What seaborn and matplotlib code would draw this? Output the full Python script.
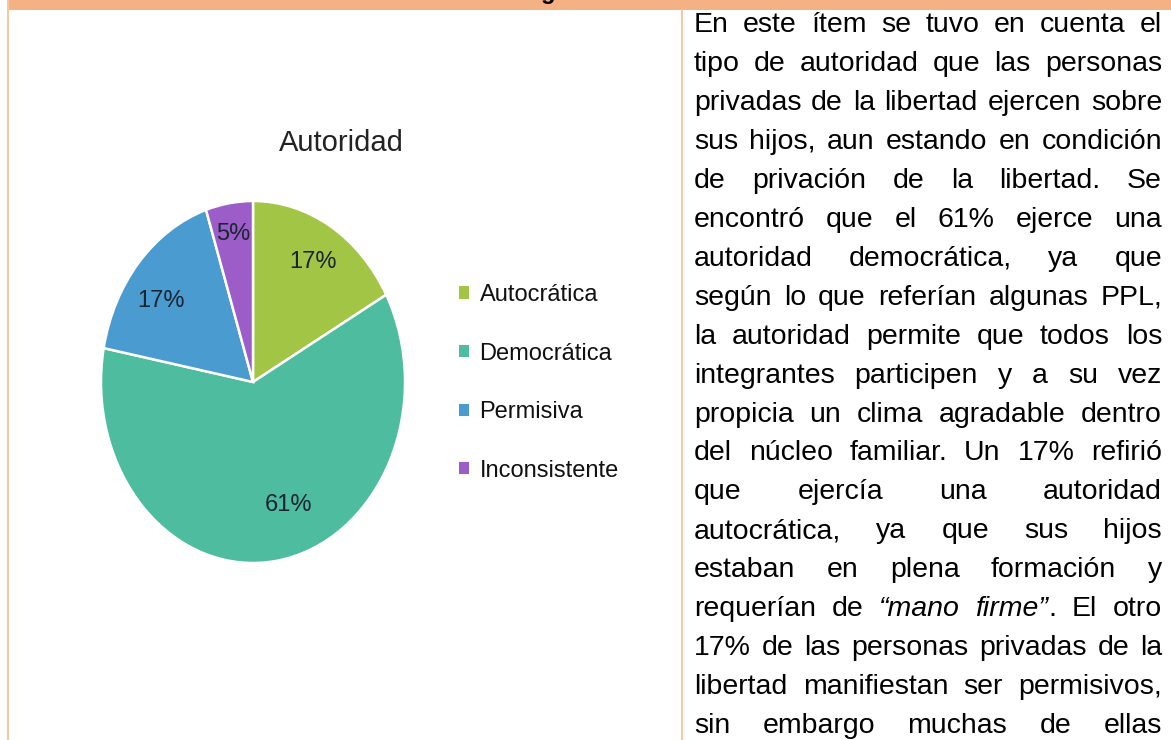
import matplotlib
matplotlib.use("Agg")
import matplotlib.pyplot as plt
import seaborn as sns
import numpy as np
from matplotlib.patches import Rectangle, Patch
from matplotlib.lines import Line2D

# ---------------- data ----------------
categories = ["Autocrática", "Democrática", "Permisiva", "Inconsistente"]
values = [17, 61, 17, 5]
pct_labels = ["17%", "61%", "17%", "5%"]
chart_title = "Autoridad"
slice_colors = ["#A2C545", "#4EBC9F", "#4A9BD0", "#9C5DC9"]

paragraph_lines = [
    "En este ítem se tuvo en cuenta el",
    "tipo de autoridad que las personas",
    "privadas de la libertad ejercen sobre",
    "sus hijos, aun estando en condición",
    "de privación de la libertad. Se",
    "encontró que el 61% ejerce una",
    "autoridad democrática, ya que",
    "según lo que referían algunas PPL,",
    "la autoridad permite que todos los",
    "integrantes participen y a su vez",
    "propicia un clima agradable dentro",
    "del núcleo familiar. Un 17% refirió",
    "que ejercía una autoridad",
    "autocrática, ya que sus hijos",
    "estaban en plena formación y",
    "requerían de “mano firme”. El otro",
    "17% de las personas privadas de la",
    "libertad manifiestan ser permisivos,",
    "sin embargo muchas de ellas",
]
italic_parts = ["“mano", "firme”"]

# ---------------- style ----------------
W, H = 1171, 740
sns.set_theme(style="white")
plt.rcParams['font.family'] = ['Liberation Sans', 'DejaVu Sans']
palette = sns.color_palette(slice_colors)

fig = plt.figure(figsize=(W / 100, H / 100), dpi=100)
fig.patch.set_facecolor("white")


def fx(px):
    return px / W


def fy(py):
    return 1 - py / H


# table frame (document layout)
fig.patches.append(Rectangle((fx(7), fy(10)), 1, 10 / H, transform=fig.transFigure,
                             facecolor="#F4B183", edgecolor="none", zorder=1))
fig.lines.append(Line2D([fx(7.5), fx(7.5)], [fy(0), fy(740)], transform=fig.transFigure,
                        color="#F8C6A2", lw=1.4, zorder=2))
fig.lines.append(Line2D([fx(682), fx(682)], [fy(10), fy(740)], transform=fig.transFigure,
                        color="#F8C6A2", lw=1.4, zorder=2))
# descender of the header text cut by the page crop
fig.text(fx(548), fy(-1.5), "g", fontsize=17, fontweight="bold", ha="center",
         va="baseline", color="black")

# ---------------- pie ----------------
cx, cy, rx, ry = 253, 382, 152, 181
ax = fig.add_axes([fx(cx - rx), fy(cy + ry), 2 * rx / W, 2 * ry / H])
wedges, _ = ax.pie(values, colors=palette, startangle=90, counterclock=False, radius=1,
                   wedgeprops=dict(edgecolor="white", linewidth=1.8))
ax.set_aspect("auto")
ax.set_xlim(-1, 1)
ax.set_ylim(-1, 1)
ax.axis("off")
for w in wedges:
    w.set_clip_on(False)

label_dist = [0.77, 0.72, 0.75, 0.83]
label_shift = [0, 10, 5, 0]
for w, lab, d, s in zip(wedges, pct_labels, label_dist, label_shift):
    mid = np.deg2rad((w.theta1 + w.theta2) / 2 + s)
    ax.text(d * np.cos(mid), d * np.sin(mid), lab, ha="center", va="center",
            fontsize=17, color="#1B2432")

fig.text(fx(341), fy(143), chart_title, fontsize=21, ha="center", va="center", color="#222222")

handles = [Patch(facecolor=c, edgecolor="none") for c in palette]
leg = fig.legend(handles, categories, loc="upper left", bbox_to_anchor=(fx(459), fy(284)),
                 frameon=False, fontsize=17, handlelength=0.42, handleheight=0.42,
                 handletextpad=0.45, labelspacing=1.55, borderpad=0, borderaxespad=0)
for t in leg.get_texts():
    t.set_color("#111111")

# ---------------- justified paragraph ----------------
fig.canvas.draw()
renderer = fig.canvas.get_renderer()
x_left, x_right = 694, 1162
fs = 20.5
y0, dy = 32.5, 38.9


def word_segments(word):
    for it in italic_parts:
        if word.startswith(it):
            rest = word[len(it):]
            segs = [(it, "italic")]
            if rest:
                segs.append((rest, "normal"))
            return segs
    return [(word, "normal")]


for i, line in enumerate(paragraph_lines):
    yb = fy(y0 + i * dy)
    words = [word_segments(w) for w in line.split()]
    items = []
    total = 0.0
    for segs in words:
        objs = []
        wsum = 0.0
        for txt, style in segs:
            t = fig.text(0, yb, txt, fontsize=fs, style=style, ha="left", va="baseline",
                         color="black")
            bw = t.get_window_extent(renderer).width
            objs.append((t, bw))
            wsum += bw
        items.append(objs)
        total += wsum
    gap = (x_right - x_left - total) / max(len(items) - 1, 1)
    x = x_left
    for objs in items:
        for t, bw in objs:
            t.set_x(fx(x))
            x += bw
        x += gap

fig.savefig("out.png", dpi=100, facecolor="white")
